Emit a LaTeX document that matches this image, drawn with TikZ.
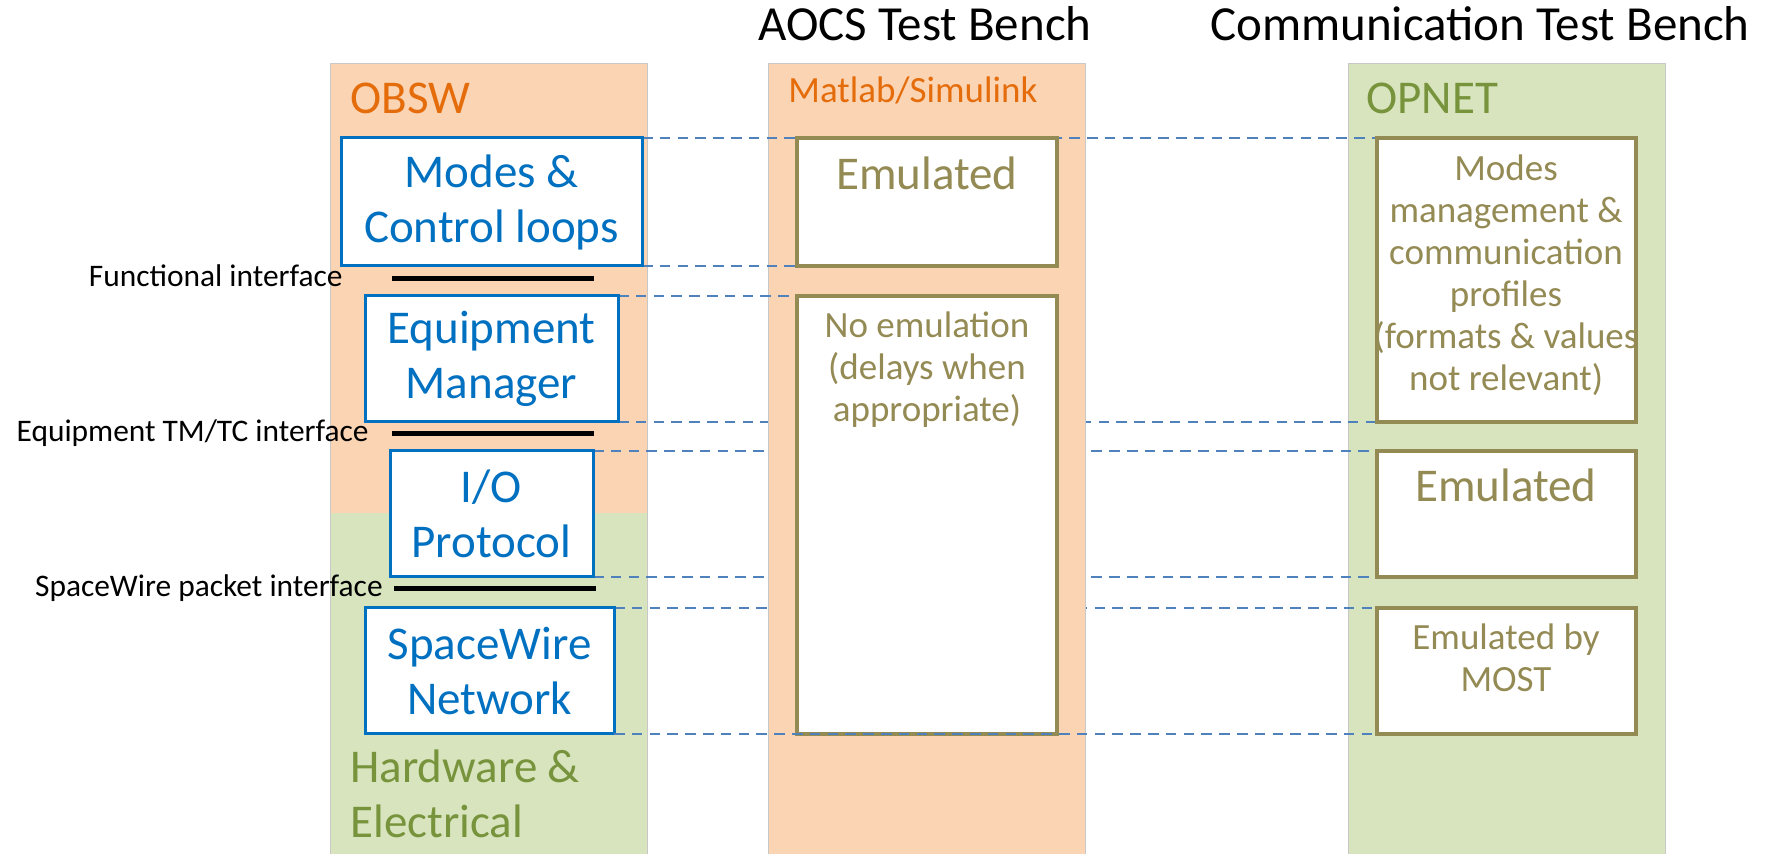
\documentclass[tikz,border=0pt]{standalone}
\usepackage{fontspec}
\setmainfont{Carlito}
\usetikzlibrary{fit}

\definecolor{colOrange}{HTML}{FBD4B4}
\definecolor{colGreen}{HTML}{D7E4BD}
\definecolor{txtOrange}{HTML}{E46C0A}
\definecolor{txtGreen}{HTML}{77933C}
\definecolor{swBlue}{HTML}{0070C0}
\definecolor{olive}{HTML}{948A54}
\definecolor{dashBlue}{HTML}{4F81BD}
\definecolor{colEdge}{HTML}{C8C8C8}

% drawing order: side columns, links behind the AOCS column, AOCS column,
% links over it, boxes, then the bottom link on top
\pgfdeclarelayer{columnsA}
\pgfdeclarelayer{linksA}
\pgfdeclarelayer{columnsB}
\pgfdeclarelayer{linksB}
\pgfdeclarelayer{linksTop}
\pgfsetlayers{columnsA,linksA,columnsB,linksB,main,linksTop}

\begin{document}
\begin{tikzpicture}[x=0.5pt,y=-0.5pt,
  bigfont/.style={font=\fontsize{23.5}{27.5}\selectfont},
  smallfont/.style={font=\fontsize{18.5}{21}\selectfont},
  title/.style={font=\fontsize{24.5}{29}\selectfont, inner sep=0pt},
  column/.style={inner sep=0pt, outer sep=0pt},
  swbox/.style={inner sep=0pt, outer sep=0pt, draw=swBlue, line width=1.5pt, fill=white},
  swtext/.style={inner sep=0pt, text=swBlue, align=center, bigfont},
  emubox/.style={inner sep=0pt, outer sep=0pt, draw=olive, line width=1.75pt, fill=white},
  emubig/.style={inner sep=0pt, text=olive, align=center, bigfont},
  emusmall/.style={inner sep=0pt, text=olive, align=center, smallfont},
  link/.style={draw=dashBlue, line width=1.4pt, dash pattern=on 5.3pt off 3.6pt},
  iface/.style={draw=black, line width=2.5pt},
  ifacelabel/.style={inner sep=0pt, font=\fontsize{15.7}{18}\selectfont},
  collabel/.style={inner sep=0pt, align=left, bigfont}]

\useasboundingbox (0,0) rectangle (1784,854);

% titles
\node[title, anchor=base] (tAocs) at (925,41) {AOCS Test Bench};
\node[title, anchor=base] (tComm) at (1480,41) {Communication Test Bench};

% columns
\begin{pgfonlayer}{columnsA}
  \node[column, fill=colOrange, fit={(330,63) (647,513)}] (obswTop) {};
  \node[column, fill=colGreen, fit={(330,513) (647,854)}] (obswBot) {};
  \draw[colEdge, line width=0.4pt] (obswTop.north west) rectangle (obswBot.south east);
  \node[column, fill=colGreen, draw=colEdge, line width=0.4pt, fit={(1348,63) (1665,854)}] (opnetCol) {};
\end{pgfonlayer}
\begin{pgfonlayer}{columnsB}
  \node[column, fill=colOrange, draw=colEdge, line width=0.4pt, fit={(768,63) (1085,854)}] (aocsCol) {};
\end{pgfonlayer}

% column labels (anchored on the baseline of their last line)
\node[collabel, text=txtOrange, anchor=base west] (lObsw) at (350,114) {OBSW};
\node[inner sep=0pt, smallfont, text=txtOrange, anchor=base west] (lMatlab) at (788,103) {Matlab/Simulink};
\node[collabel, text=txtGreen, anchor=base west] (lOpnet) at (1366,114) {OPNET};
\node[collabel, text=txtGreen, anchor=base west] (lHw) at (350,838) {Hardware \&\\Electrical};

% OBSW layers
\node[swbox, fit={(341,138) (642,266)}] (modes) {};
\node[swbox, fit={(365,296) (618,422)}] (eqm) {};
\node[swbox, fit={(390,451) (593,577)}] (io) {};
\node[swbox, fit={(365,608) (614,734)}] (spw) {};
\node[swtext] (modesT) at (modes.center) {Modes \&\\Control loops};
\node[swtext] (eqmT) at (eqm.center) {Equipment\\Manager};
\node[swtext] (ioT) at (io.center) {I/O\\Protocol};
\node[swtext] (spwT) at (spw.center) {SpaceWire\\Network};

% interfaces between layers
\coordinate (fiA) at (392,279);  \coordinate (fiB) at (594,279);
\coordinate (tmA) at (392,434);  \coordinate (tmB) at (594,434);
\coordinate (spA) at (394,589);  \coordinate (spB) at (596,589);
\draw[iface] (fiA) -- (fiB);
\draw[iface] (tmA) -- (tmB);
\draw[iface] (spA) -- (spB);
\node[ifacelabel, anchor=base east] (fiL) at (343,287) {Functional interface};
\node[ifacelabel, anchor=base east] (tmL) at (369,442) {Equipment TM/TC interface};
\node[ifacelabel, anchor=base east] (spL) at (383,597) {SpaceWire packet interface};

% AOCS test bench
\node[emubox, fit={(797,138) (1057,266)}] (aEmul) {};
\node[emubox, fit={(797,296) (1057,734)}] (aNo) {};
\node[emubig, anchor=base] (aEmulT) at (927,190) {Emulated};
\node[emusmall, anchor=base] (aNoT) at (927,422) {No emulation\\(delays when\\appropriate)};

% communication test bench
\node[emubox, fit={(1377,138) (1636,422)}] (oModes) {};
\node[emubox, fit={(1377,451) (1636,577)}] (oEmul) {};
\node[emubox, fit={(1377,608) (1636,734)}] (oMost) {};
\node[emusmall, anchor=base] (oModesT) at (1506,391) {Modes\\management \&\\communication\\profiles\\(formats \& values\\not relevant)};
\node[emubig, anchor=base] (oEmulT) at (1506,502) {Emulated};
\node[emusmall, anchor=base] (oMostT) at (1506,692) {Emulated by\\MOST};

% correspondence links
\begin{pgfonlayer}{linksA}
  \draw[link] (eqm.south east) -- (oModes.south west);
  \draw[link] (io.north east) -- (oEmul.north west);
  \draw[link] (io.south east) -- (oEmul.south west);
  \draw[link] (spw.north east) -- (oMost.north west);
\end{pgfonlayer}
\begin{pgfonlayer}{linksB}
  \draw[link] (modes.north east) -- (oModes.north west);
  \draw[link] (modes.south east) -- (aEmul.south west);
  \draw[link] (eqm.north east) -- (aNo.north west);
\end{pgfonlayer}
\begin{pgfonlayer}{linksTop}
  \draw[link] (spw.south east) -- (oMost.south west);
\end{pgfonlayer}

\end{tikzpicture}
\end{document}
